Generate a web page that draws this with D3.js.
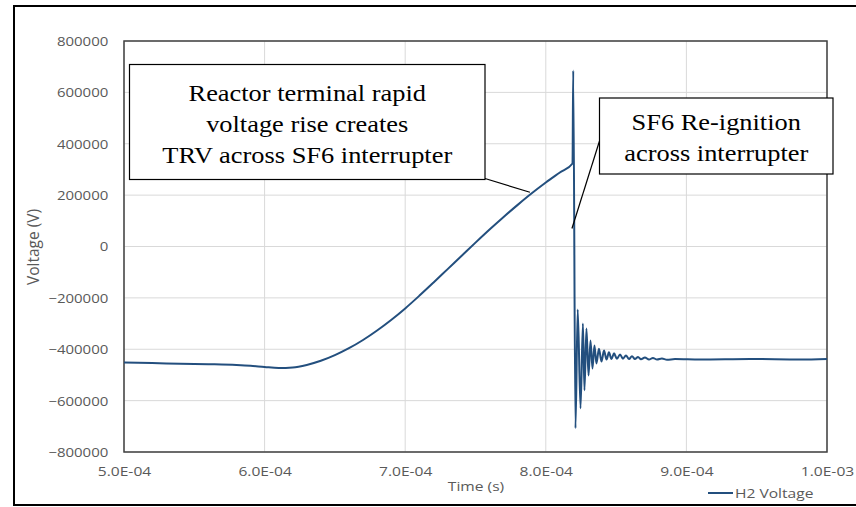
<!DOCTYPE html>
<html><head><meta charset="utf-8">
<script src="https://cdn.jsdelivr.net/npm/d3@7"></script>
<style>body{margin:0;background:#fff}</style></head>
<body>
<svg id="c" width="856" height="507"></svg>
<script>
// ---- data (time in seconds, voltage in volts) ----
const timeS = [
  5.00e-4, 5.20e-4, 5.40e-4, 5.60e-4, 5.80e-4, 5.90e-4, 6.00e-4, 6.10e-4, 6.20e-4, 6.30e-4,
  6.40e-4, 6.50e-4, 6.60e-4, 6.70e-4, 6.80e-4, 6.90e-4, 7.00e-4, 7.10e-4, 7.20e-4, 7.30e-4,
  7.40e-4, 7.50e-4, 7.60e-4, 7.70e-4, 7.80e-4, 7.90e-4, 8.00e-4, 8.10e-4, 8.190e-4,
  8.195e-4, 8.211e-4, 8.227e-4, 8.247e-4, 8.264e-4, 8.275e-4, 8.289e-4, 8.304e-4, 8.318e-4,
  8.332e-4, 8.346e-4, 8.360e-4, 8.378e-4, 8.396e-4, 8.414e-4, 8.432e-4, 8.449e-4, 8.467e-4,
  8.485e-4, 8.506e-4, 8.528e-4, 8.549e-4, 8.570e-4, 8.592e-4, 8.613e-4, 8.634e-4, 8.656e-4,
  8.677e-4, 8.705e-4, 8.734e-4, 8.762e-4, 8.791e-4, 8.826e-4, 8.862e-4, 8.919e-4, 9.097e-4,
  9.452e-4, 9.808e-4, 10.00e-4
];
const voltageV = [
  -452000, -454000, -456000, -458000, -461000, -464000, -469000, -473000, -471000, -461000,
  -445000, -423000, -396000, -364000, -327000, -286000, -241000, -192000, -141000, -89000,
  -37000, 15000, 66000, 115000, 162000, 207000, 249000, 288000, 323000,
  685000, -708000, -245000, -630000, -300000, -560000, -319000, -502000, -366000,
  -475000, -385000, -455000, -398000, -448000, -405000, -440000, -412000, -438000,
  -416000, -437000, -420000, -437000, -424000, -438000, -427000, -438000, -430000,
  -439000, -432000, -440000, -434000, -440000, -436000, -441000, -438000, -440000,
  -438000, -440000, -438000
];
const xTicks = [5e-4, 6e-4, 7e-4, 8e-4, 9e-4, 1e-3];
const yTicks = [-800000, -600000, -400000, -200000, 0, 200000, 400000, 600000, 800000];
const seriesName = "H2 Voltage";
const xTitle = "Time (s)";
const yTitle = "Voltage (V)";
const note1Lines = ["Reactor terminal rapid", "voltage rise creates", "TRV across SF6 interrupter"];
const note1Target = [7.887e-4, 211000];
const note2Lines = ["SF6 Re-ignition", "across interrupter"];
const note2Target = [8.186e-4, 70000];

// ---- drawing ----
const svg = d3.select("#c");
const L = 124, R = 827, T = 41, B = 452;
const x = d3.scaleLinear().domain([5e-4, 1e-3]).range([L, R]);
const y = d3.scaleLinear().domain([-800000, 800000]).range([B, T]);
const lineColor = "#234f7e";
const labColor = "#595959";
const SANS = "'Open Sans', sans-serif";
const SERIF = "'Liberation Serif', serif";
const sx = 1.2;

svg.append("rect").attr("width", 856).attr("height", 507).attr("fill", "#fff");
svg.append("rect").attr("x", 14).attr("y", 6).attr("width", 860).attr("height", 499)
  .attr("fill", "none").attr("stroke", "#000").attr("stroke-width", 2);

// grid
const grid = svg.append("g");
grid.selectAll("line.v").data(xTicks).join("line")
  .attr("x1", d => x(d)).attr("x2", d => x(d)).attr("y1", T).attr("y2", B)
  .attr("stroke", "#d9d9d9").attr("stroke-width", 1);
grid.selectAll("line.h").data(yTicks).join("line")
  .attr("x1", L).attr("x2", R).attr("y1", d => y(d)).attr("y2", d => y(d))
  .attr("stroke", "#d9d9d9").attr("stroke-width", 1);

// axes
function fmtE(v) {
  const [m, e] = v.toExponential(1).split("e");
  const n = Math.abs(+e);
  return m + "E" + (+e < 0 ? "-" : "+") + String(n).padStart(2, "0");
}
const yAxis = svg.append("g").attr("transform", `translate(${L},0)`)
  .call(d3.axisLeft(y).tickValues(yTicks).tickSize(0).tickFormat(d3.format("d")));
yAxis.select(".domain").remove();
yAxis.selectAll("text").attr("x", -15.7 / sx).attr("dy", "0.35em")
  .attr("transform", `scale(${sx},1)`)
  .attr("fill", labColor).style("font-family", SANS).style("font-size", "12.5px");

const xAxis = svg.append("g").attr("transform", `translate(0,${B})`)
  .call(d3.axisBottom(x).tickValues(xTicks).tickSize(0).tickFormat(fmtE));
xAxis.select(".domain").remove();
xAxis.selectAll("text").attr("y", 19).attr("dy", "0.35em").attr("x", 0)
  .attr("transform", `scale(${sx},1)`)
  .attr("fill", labColor).style("font-family", SANS).style("font-size", "13px");

// plot frame
svg.append("rect").attr("x", L).attr("y", T).attr("width", R - L).attr("height", B - T)
  .attr("fill", "none").attr("stroke", "#404040").attr("stroke-width", 1.5);

// series
const pts = timeS.map((t, i) => [t, voltageV[i]]);
svg.append("path").datum(pts)
  .attr("d", d3.line().curve(d3.curveMonotoneX).x(d => x(d[0])).y(d => y(d[1])))
  .attr("fill", "none").attr("stroke", lineColor).attr("stroke-width", 2)
  .attr("stroke-linejoin", "round");

// titles
function stext(g, px, py, str, scaleX, anchor) {
  return g.append("text").attr("transform", `translate(${px},${py}) scale(${scaleX},1)`)
    .attr("text-anchor", anchor || "middle").text(str);
}
stext(svg, 476, 486, xTitle, sx).attr("dy", "0.35em")
  .attr("fill", labColor).style("font-family", SANS).style("font-size", "13px");
svg.append("text").attr("transform", `translate(34,247) rotate(-90)`)
  .attr("text-anchor", "middle").attr("dy", "0.35em").text(yTitle)
  .attr("fill", labColor).style("font-family", SANS).style("font-size", "15.5px");

// legend
svg.append("line").attr("x1", 708).attr("x2", 733).attr("y1", 493).attr("y2", 493)
  .attr("stroke", lineColor).attr("stroke-width", 2);
stext(svg, 735, 493, seriesName, sx, "start").attr("dy", "0.35em")
  .attr("fill", labColor).style("font-family", SANS).style("font-size", "13px");

// annotations
function note(box, lines, baselines, target, from) {
  const g = svg.append("g");
  g.append("line").attr("x1", from[0]).attr("y1", from[1])
    .attr("x2", x(target[0])).attr("y2", y(target[1]))
    .attr("stroke", "#000").attr("stroke-width", 1.2);
  g.append("rect").attr("x", box[0]).attr("y", box[1]).attr("width", box[2] - box[0])
    .attr("height", box[3] - box[1]).attr("fill", "#fff").attr("stroke", "#000").attr("stroke-width", 1.2);
  const cx = (box[0] + box[2]) / 2;
  lines.forEach((s, i) => {
    stext(g, cx, baselines[i], s, 1.1).attr("fill", "#000")
      .style("font-family", SERIF).style("font-size", "24px");
  });
}
note([129.5, 64.5, 485, 179.5], note1Lines, [101, 132, 163], note1Target, [485, 178.5]);
note([599.5, 98, 833, 174], note2Lines, [130, 161], note2Target, [599.5, 141]);
</script>
</body></html>
